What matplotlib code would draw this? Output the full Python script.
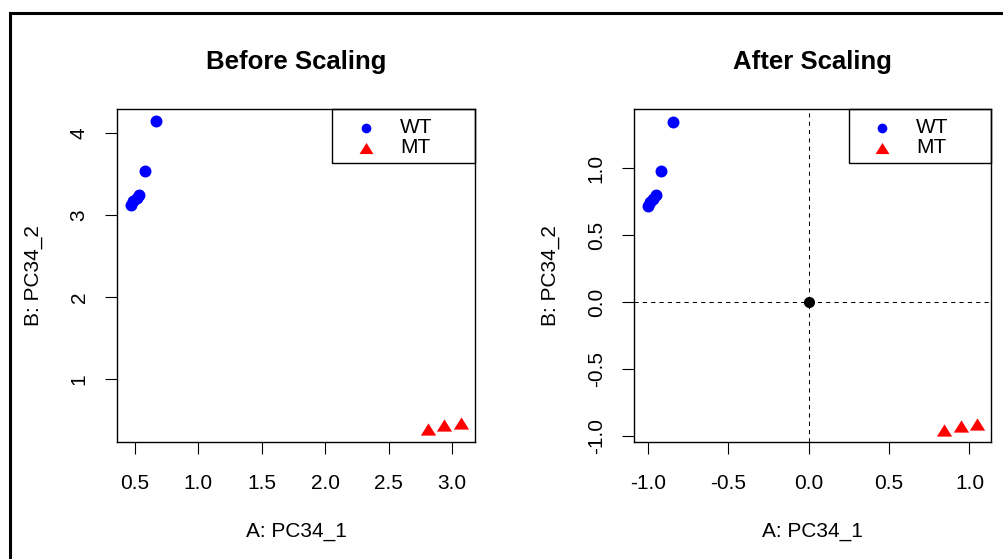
import matplotlib
matplotlib.use("Agg")
import matplotlib.pyplot as plt
from matplotlib.patches import Rectangle

plt.rcParams['font.family'] = ['Liberation Sans', 'DejaVu Sans']

# before scaling
wt_x_raw = [0.668, 0.581, 0.536, 0.515, 0.490, 0.470]
wt_y_raw = [4.15, 3.54, 3.25, 3.21, 3.17, 3.12]
mt_x_raw = [2.807, 2.938, 3.070]
mt_y_raw = [0.39, 0.44, 0.46]

# after scaling
wt_x_sc = [-0.844, -0.918, -0.950, -0.968, -0.985, -1.000]
wt_y_sc = [1.347, 0.98, 0.80, 0.77, 0.745, 0.72]
mt_x_sc = [0.841, 0.947, 1.047]
mt_y_sc = [-0.957, -0.927, -0.911]
center = (0.0, 0.0)

xticks_raw = [0.5, 1.0, 1.5, 2.0, 2.5, 3.0]
yticks_raw = [1, 2, 3, 4]
xticks_sc = [-1.0, -0.5, 0.0, 0.5, 1.0]
yticks_sc = [-1.0, -0.5, 0.0, 0.5, 1.0]

tri = [(-1, -0.8), (1, -0.8), (0, 0.8)]
FS = 15

fig = plt.figure(figsize=(10.04, 5.59), dpi=100)
W, H = 1004, 559

# outer device border (partially cropped)
fig.add_artist(Rectangle((9.5 / W, -0.1), 1.2, 1 - 13.5 / H + 0.1,
                         transform=fig.transFigure, fill=False,
                         edgecolor='black', linewidth=2.2))


def make_axes(left_px, right_px):
    return fig.add_axes([left_px / W, 1 - 441.5 / H,
                         (right_px - left_px) / W, 332.5 / H])


def style(ax, title, xt, yt, xfmt, yfmt):
    for s in ax.spines.values():
        s.set_linewidth(1.0)
    ax.set_xticks(xt)
    ax.set_yticks(yt)
    ax.set_xticklabels([xfmt.format(v) for v in xt], fontsize=FS)
    ax.set_yticklabels([yfmt.format(v) for v in yt], fontsize=FS,
                       rotation=90, va='center')
    ax.tick_params(axis='x', direction='out', length=8.5, width=0.8, pad=15)
    ax.tick_params(axis='y', direction='out', length=8.5, width=0.8, pad=12)
    ax.set_title(title, fontsize=18.5, fontweight='bold', pad=29)
    ax.set_xlabel("A: PC34_1", fontsize=FS, labelpad=21)
    ax.set_ylabel("B: PC34_2", fontsize=FS, labelpad=19)


def legend(ax):
    ax.add_patch(Rectangle((0.6006, 0.8385), 0.3994, 0.1615,
                           transform=ax.transAxes, fill=False,
                           edgecolor='black', linewidth=1.0, clip_on=False))
    ax.plot([0.6955], [0.943], 'o', color='blue', markersize=7,
            markeredgewidth=0, transform=ax.transAxes, clip_on=False)
    ax.plot([0.6955], [0.883], marker=tri, linestyle='none', color='red',
            markersize=10, markeredgewidth=0, transform=ax.transAxes,
            clip_on=False)
    ax.text(0.7905, 0.943, "WT", fontsize=FS, va='center', ha='left',
            transform=ax.transAxes)
    ax.text(0.7905, 0.883, "MT", fontsize=FS, va='center', ha='left',
            transform=ax.transAxes)


ax1 = make_axes(117, 475)
ax1.plot(wt_x_raw, wt_y_raw, 'o', color='blue', markersize=8.6,
         markeredgewidth=0)
ax1.plot(mt_x_raw, mt_y_raw, marker=tri, linestyle='none', color='red',
         markersize=11, markeredgewidth=0)
ax1.set_xlim(0.361, 3.18)
ax1.set_ylim(0.239, 4.296)
style(ax1, "Before Scaling", xticks_raw, yticks_raw, "{:.1f}", "{:d}")
legend(ax1)

ax2 = make_axes(634.3, 991)
ax2.axhline(0, color='black', linewidth=0.75, linestyle=(0, (4, 4)))
ax2.axvline(0, color='black', linewidth=0.75, linestyle=(0, (4, 4)))
ax2.plot(wt_x_sc, wt_y_sc, 'o', color='blue', markersize=8.6,
         markeredgewidth=0)
ax2.plot(mt_x_sc, mt_y_sc, marker=tri, linestyle='none', color='red',
         markersize=11, markeredgewidth=0)
ax2.plot([center[0]], [center[1]], 'o', color='black', markersize=8,
         markeredgewidth=0)
ax2.set_xlim(-1.085, 1.134)
ax2.set_ylim(-1.042, 1.444)
style(ax2, "After Scaling", xticks_sc, yticks_sc, "{:.1f}", "{:.1f}")
legend(ax2)

fig.savefig("out.png", dpi=100)
